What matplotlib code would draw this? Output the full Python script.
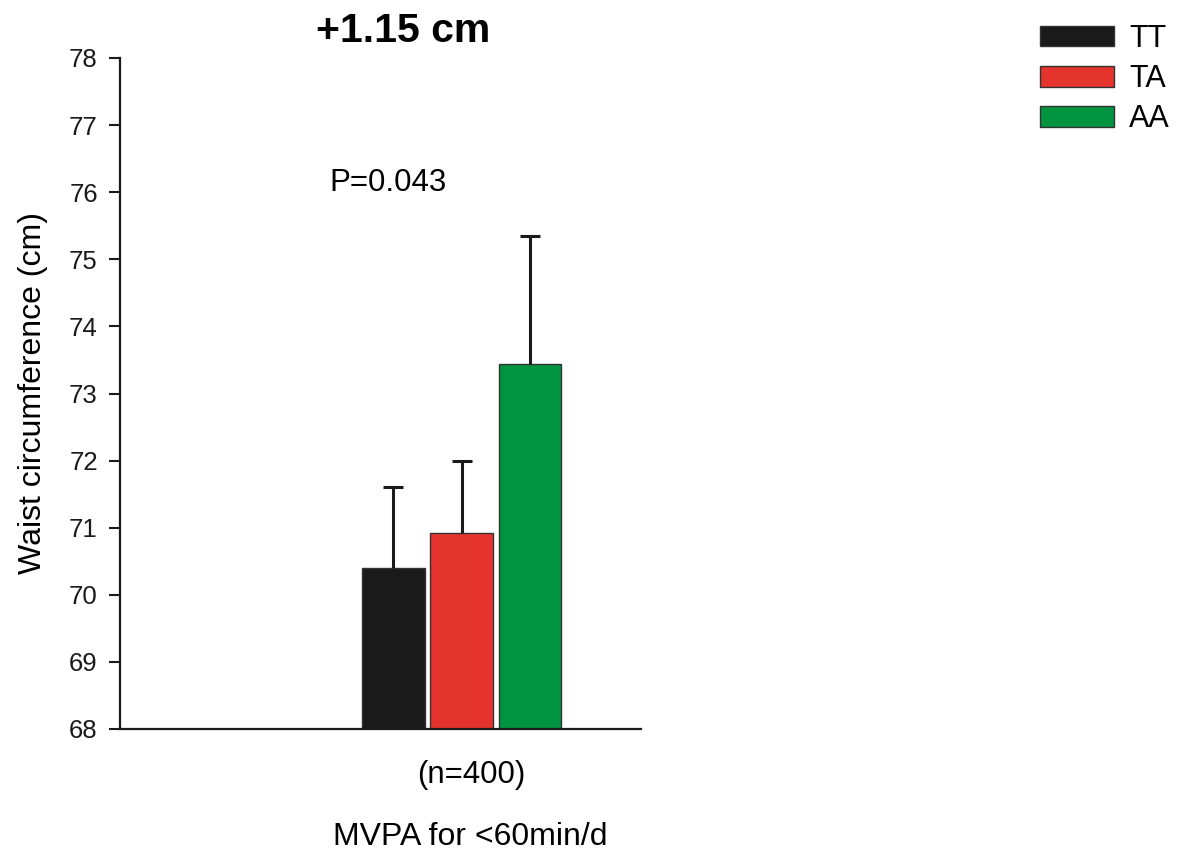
import matplotlib
matplotlib.use("Agg")
import matplotlib.pyplot as plt

plt.rcParams['font.family'] = ['Liberation Sans', 'DejaVu Sans']

genotypes = ["TT", "TA", "AA"]
means = [70.40, 70.92, 73.44]
err_up = [1.21, 1.08, 1.91]
colors = ["#1a1a1a", "#e5332e", "#009440"]
yticks = [68, 69, 70, 71, 72, 73, 74, 75, 76, 77, 78]
title_text = "+1.15 cm"
p_text = "P=0.043"
n_text = "(n=400)"
group_label = "MVPA for <60min/d"
ylabel = "Waist circumference (cm)"

fig = plt.figure(figsize=(11.8, 8.5), dpi=100)
ax = fig.add_axes([120/1180, 1-729/850, (641-120)/1180, (729-58)/850])

pos = list(range(len(genotypes)))
bars = ax.bar(pos, [m - 68 for m in means], bottom=68, width=0.92,
              color=colors, edgecolor="#333333", linewidth=1.0, zorder=2)
eb = ax.errorbar(pos, means, yerr=[[0]*3, err_up], fmt='none', ecolor="#1a1a1a",
                 elinewidth=2.2, capsize=7.5, capthick=2.2, zorder=3)
eb[1][0].set_visible(False)

ax.set_xlim(-4.0, 3.625)
ax.set_ylim(68, 78)
ax.set_yticks(yticks)
ax.set_xticks([])
ax.tick_params(axis='y', direction='out', length=8, width=1.5, labelsize=18.5, pad=8, colors="#1a1a1a")
for s in ["top", "right"]:
    ax.spines[s].set_visible(False)
for s in ["left", "bottom"]:
    ax.spines[s].set_linewidth(1.6)
    ax.spines[s].set_color("#1a1a1a")
ax.set_ylabel(ylabel, fontsize=23, labelpad=15)

ax.text(-0.08, 76.14, p_text, fontsize=22.5, ha='center', va='center')

fig.text(403.5/1180, 1-31/850, title_text, fontsize=29.5, fontweight='bold', ha='center', va='center')
fig.text(471/1180, 1-775/850, n_text, fontsize=22.5, ha='center', va='center')
fig.text(470/1180, 1-837/850, group_label, fontsize=23, ha='center', va='center')

leg = fig.legend(bars, genotypes, loc='upper left', bbox_to_anchor=(1040/1180, 1-24/850),
                 frameon=False, fontsize=22, handlelength=2.42, handleheight=0.65,
                 labelspacing=0.33, handletextpad=0.5, borderpad=0, borderaxespad=0)

fig.savefig("out.png", dpi=100)
